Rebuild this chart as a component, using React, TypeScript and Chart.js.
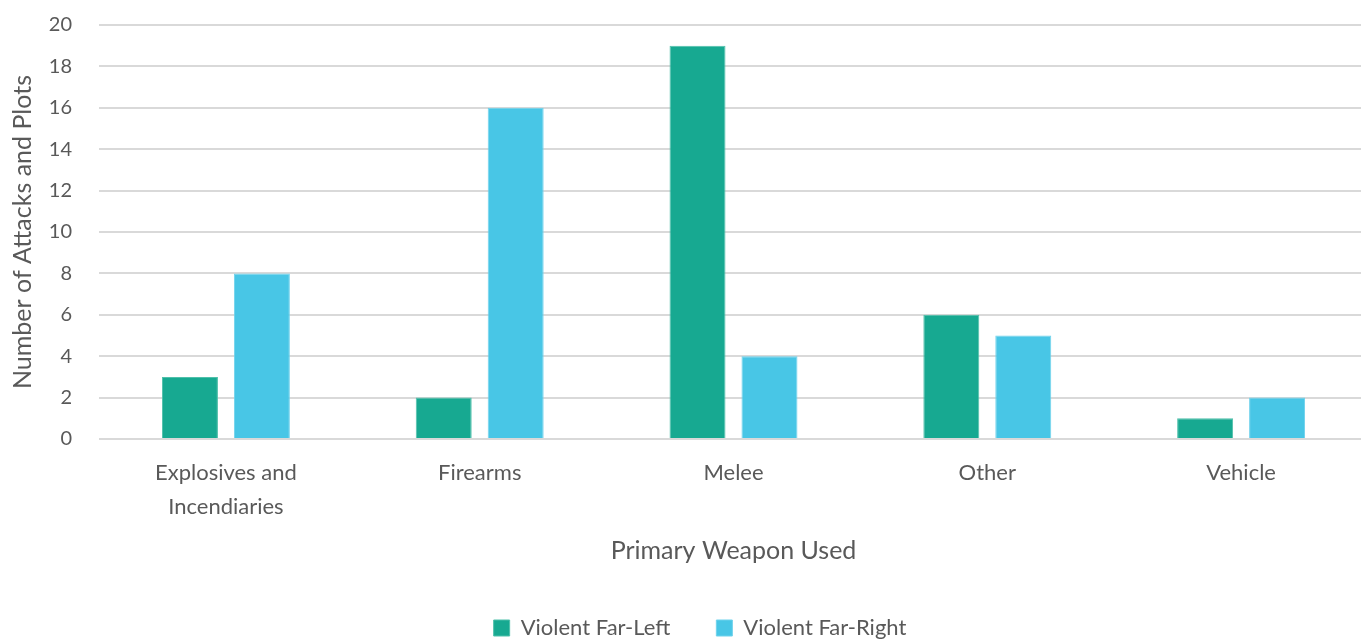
import React, { useEffect, useRef } from "react";
import { Chart, registerables } from "chart.js";

Chart.register(...registerables);

const categories: (string | string[])[] = [
  ["Explosives and", "Incendiaries"],
  "Firearms",
  "Melee",
  "Other",
  "Vehicle",
];
const farLeft = [3, 2, 19, 6, 1];
const farRight = [8, 16, 4, 5, 2];
const yTicks = [0, 2, 4, 6, 8, 10, 12, 14, 16, 18, 20];

const FONT = "Lato, 'Noto Sans', sans-serif";
const TEXT = "#595959";
const CANVAS_W = 1368;
const CANVAS_H = 639;

const shiftLegend = {
  id: "shiftLegend",
  afterLayout(chart: any) {
    if (chart.legend) {
      chart.legend.left += 24;
    }
  },
};

export default function App() {
  const ref = useRef<HTMLCanvasElement | null>(null);
  useEffect(() => {
    if (!ref.current) return;
    const chart = new Chart(ref.current, {
      type: "bar",
      data: {
        labels: categories,
        datasets: [
          {
            label: "Violent Far-Left",
            data: farLeft,
            backgroundColor: "#17A991",
            borderColor: "#4fc0aa",
            borderWidth: 1,
            categoryPercentage: 0.567,
            barPercentage: 0.778,
          },
          {
            label: "Violent Far-Right",
            data: farRight,
            backgroundColor: "#48C6E6",
            borderColor: "#6fd2ec",
            borderWidth: 1,
            categoryPercentage: 0.567,
            barPercentage: 0.778,
          },
        ],
      },
      plugins: [shiftLegend],
      options: {
        animation: false,
        responsive: false,
        maintainAspectRatio: false,
        layout: { padding: { top: 25, right: 0, left: 8, bottom: -10 } },
        plugins: {
          tooltip: { enabled: false },
          legend: {
            position: "bottom",
            labels: {
              font: { family: FONT, size: 22 },
              color: TEXT,
              boxWidth: 16,
              boxHeight: 16,
              padding: 46,
            },
          },
        },
        scales: {
          x: {
            grid: { display: false, drawTicks: false },
            border: { display: false },
            afterFit: (axis: any) => {
              axis.height = 132;
              axis.paddingLeft = 0;
              axis.paddingRight = 0;
            },
            ticks: {
              font: { family: FONT, size: 22, lineHeight: "34px" },
              color: TEXT,
              padding: 17,
              maxRotation: 0,
            },
            title: {
              display: true,
              text: "Primary Weapon Used",
              font: { family: FONT, size: 25 },
              color: TEXT,
              padding: { top: 16, bottom: 5 },
            },
          },
          y: {
            min: 0,
            max: 20,
            afterBuildTicks: (axis: any) => {
              axis.ticks = yTicks.map((v) => ({ value: v }));
            },
            afterFit: (axis: any) => {
              axis.width = 91;
              axis.paddingTop = 0;
              axis.paddingBottom = 0;
            },
            grid: { color: "#d9d9d9", lineWidth: 2, drawTicks: false },
            border: { display: false },
            ticks: {
              font: { family: FONT, size: 20 },
              color: TEXT,
              padding: 27,
            },
            title: {
              display: true,
              text: "Number of Attacks and Plots",
              font: { family: FONT, size: 25 },
              color: TEXT,
              padding: { top: 0, bottom: 6 },
            },
          },
        },
      },
    });
    return () => chart.destroy();
  }, []);
  return (
    <div
      style={{
        position: "fixed",
        left: 0,
        top: 0,
        width: 1361,
        height: 639,
        overflow: "hidden",
        background: "#fff",
      }}
    >
      <canvas
        ref={ref}
        width={CANVAS_W}
        height={CANVAS_H}
        style={{ width: CANVAS_W, height: CANVAS_H, display: "block" }}
      />
    </div>
  );
}
